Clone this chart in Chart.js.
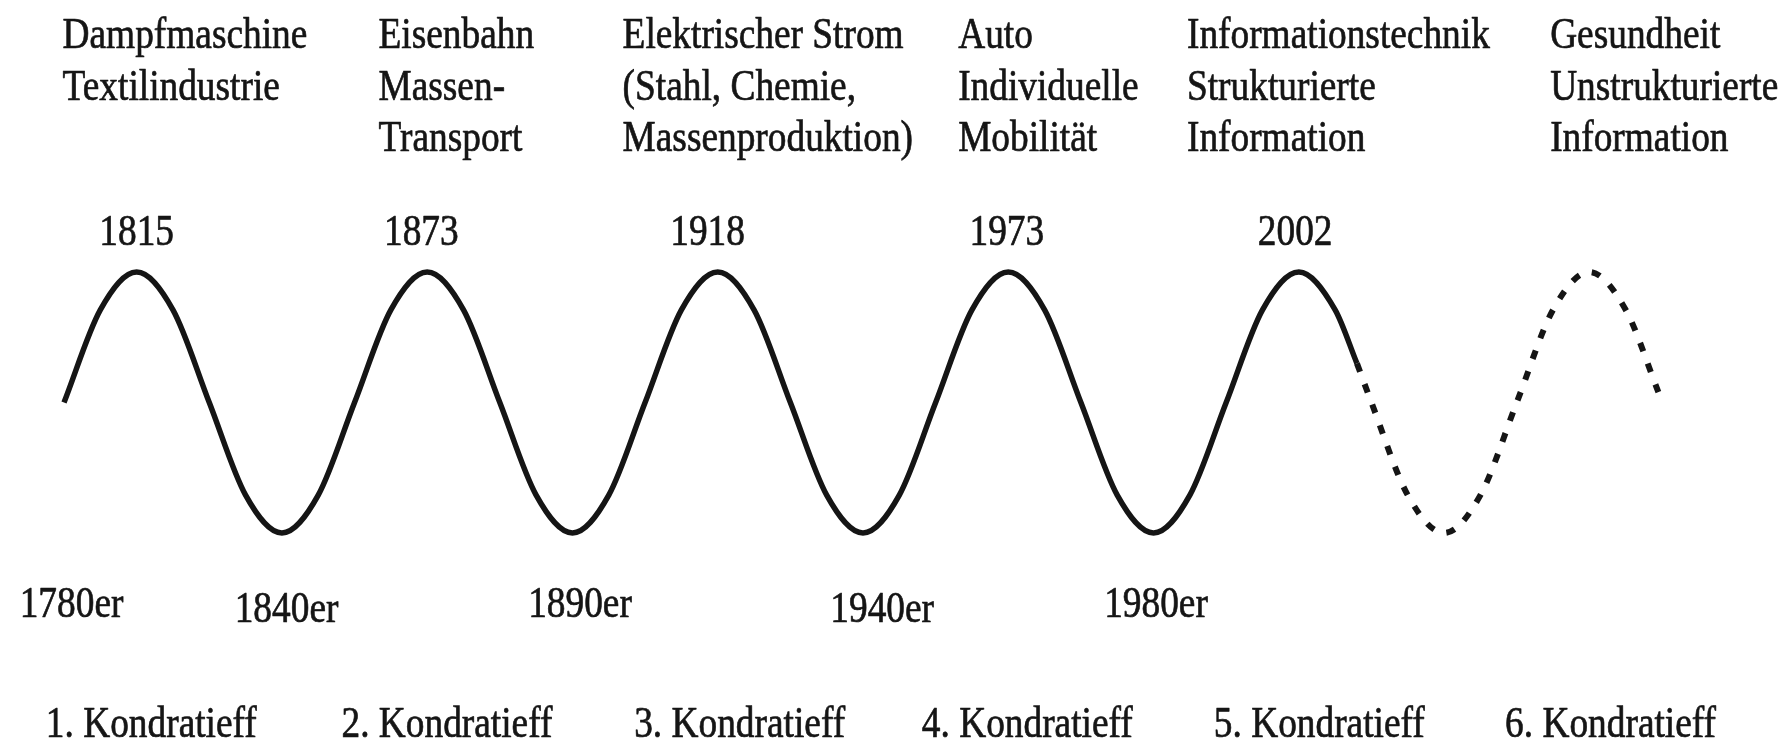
<!DOCTYPE html>
<html>
<head>
<meta charset="utf-8">
<script src="https://cdn.jsdelivr.net/npm/chart.js@4.4.1/dist/chart.umd.min.js"></script>
<style>
  html, body { margin: 0; padding: 0; background: #ffffff; }
  #wrap { width: 1791px; height: 746px; position: relative; }
</style>
</head>
<body>
<div id="wrap"><canvas id="c"></canvas></div>
<script>
// ---- Data (x in quarter-cycles of the long wave, y = relative economic activity) ----
const solidX = [0, 0.5, 1, 1.5, 2, 2.5, 3, 3.5, 4, 4.5, 5, 5.5, 6, 6.5, 7, 7.5, 8, 8.5,
                9, 9.5, 10, 10.5, 11, 11.5, 12, 12.5, 13, 13.5, 14, 14.5, 15, 15.5, 16, 16.5,
                17, 17.5, 17.8];
const solidY = [0, 71, 100, 71, 0, -71, -100, -71, 0, 71, 100, 71, 0, -71, -100, -71, 0, 71,
                100, 71, 0, -71, -100, -71, 0, 71, 100, 71, 0, -71, -100, -71, 0, 71,
                100, 71, 30];
const dottedX = [17.8, 18, 18.5, 19, 19.5, 20, 20.5, 21, 21.5, 21.95];
const dottedY = [30, 0, -71, -100, -71, 0, 71, 100, 71, 8];

const innovations = [
  ["Dampfmaschine", "Textilindustrie"],
  ["Eisenbahn", "Massen-", "Transport"],
  ["Elektrischer Strom", "(Stahl, Chemie,", "Massenproduktion)"],
  ["Auto", "Individuelle", "Mobilität"],
  ["Informationstechnik", "Strukturierte", "Information"],
  ["Gesundheit", "Unstrukturierte", "Information"]
];
const innovationX = [-0.02, 4.33, 7.69, 12.31, 15.46, 20.46];

const peakYears = ["1815", "1873", "1918", "1973", "2002"];
const peakYearX = [1.0, 4.92, 8.86, 12.98, 16.95];

const decades = ["1780er", "1840er", "1890er", "1940er", "1980er"];
const decadeX = [-0.61, 2.35, 6.39, 10.55, 14.32];

const waveNames = ["1. Kondratieff", "2. Kondratieff", "3. Kondratieff",
                   "4. Kondratieff", "5. Kondratieff", "6. Kondratieff"];
const waveNameX = [-0.25, 3.82, 7.85, 11.81, 15.83, 19.84];

// ---- Rendering ----
const FONT = '45px "Liberation Serif", "Times New Roman", serif';
const SX = 0.83;
const INK = '#151515';

function drawText(ctx, s, x, y, align) {
  ctx.save();
  ctx.translate(x, y);
  ctx.scale(SX, 1);
  ctx.textAlign = align;
  ctx.textBaseline = 'alphabetic';
  ctx.fillText(s, 0, 0);
  ctx.strokeText(s, 0, 0);
  ctx.restore();
}

const labelPlugin = {
  id: 'kondratieffLabels',
  afterDraw(chart) {
    const ctx = chart.ctx;
    const xs = chart.scales.x, ys = chart.scales.y;
    const top = ys.getPixelForValue(100);
    const bottom = ys.getPixelForValue(-100);
    ctx.save();
    ctx.font = FONT;
    ctx.fillStyle = INK;
    ctx.strokeStyle = INK;
    ctx.lineWidth = 0.7;
    ctx.lineJoin = 'round';
    innovations.forEach((lines, i) => {
      lines.forEach((line, j) => drawText(ctx, line, xs.getPixelForValue(innovationX[i]), 48 + j * 51.5, 'left'));
    });
    peakYears.forEach((s, i) => drawText(ctx, s, xs.getPixelForValue(peakYearX[i]), top - 27, 'center'));
    decades.forEach((s, i) => drawText(ctx, s, xs.getPixelForValue(decadeX[i]), bottom + 84 + (i % 2 ? 5 : 0), 'left'));
    waveNames.forEach((s, i) => drawText(ctx, s, xs.getPixelForValue(waveNameX[i]), 737, 'left'));
    ctx.restore();
  }
};

const toPts = (xa, ya) => xa.map((x, i) => ({ x: x, y: ya[i] }));

new Chart(document.getElementById('c'), {
  type: 'line',
  data: {
    datasets: [
      {
        label: 'Kondratieff-Zyklen',
        data: toPts(solidX, solidY),
        borderColor: INK,
        borderWidth: 5.5,
        pointRadius: 0,
        cubicInterpolationMode: 'monotone',
        borderJoinStyle: 'round',
        fill: false,
        clip: false
      },
      {
        label: 'Prognose',
        data: toPts(dottedX, dottedY),
        borderColor: INK,
        borderWidth: 6,
        borderDash: [9, 13],
        pointRadius: 0,
        cubicInterpolationMode: 'monotone',
        fill: false,
        clip: false
      }
    ]
  },
  options: {
    responsive: true,
    maintainAspectRatio: false,
    animation: false,
    events: [],
    layout: { padding: { left: 64, right: 129, top: 272, bottom: 213 } },
    plugins: { legend: { display: false }, tooltip: { enabled: false } },
    scales: {
      x: { type: 'linear', min: 0, max: 22, display: false },
      y: { type: 'linear', min: -100, max: 100, display: false }
    }
  },
  plugins: [labelPlugin]
});
</script>
</body>
</html>
